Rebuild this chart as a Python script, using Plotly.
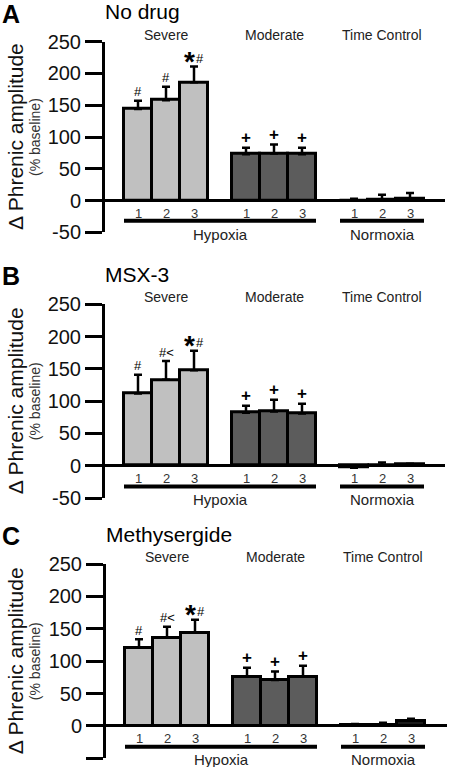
import plotly.graph_objects as go

# ---------------- data ----------------
panel_letters = ["A", "B", "C"]
panel_titles = ["No drug", "MSX-3", "Methysergide"]
group_names = ["Severe", "Moderate", "Time Control"]
trial_labels = ["1", "2", "3"]
condition_names = ["Hypoxia", "Normoxia"]

nodrug_severe = [144, 158, 186]
nodrug_severe_sem = [13, 21, 25]
nodrug_moderate = [73, 74, 73]
nodrug_moderate_sem = [10, 14, 10]
nodrug_time = [0, 1, 3]
nodrug_time_sem = [3, 8, 9]

msx3_severe = [112, 133, 148]
msx3_severe_sem = [29, 29, 30]
msx3_moderate = [82, 84, 81]
msx3_moderate_sem = [11, 18, 15]
msx3_time = [-3, 0, 2]
msx3_time_sem = [2, 5, 1]

methy_severe = [121, 136, 144]
methy_severe_sem = [13, 17, 20]
methy_moderate = [76, 71, 76]
methy_moderate_sem = [14, 13, 17]
methy_time = [2, 1, 8]
methy_time_sem = [1, 4, 3]

nodrug_marks_severe = ["#", "#", "*#"]
drug_marks_severe = ["#", "#<", "*#"]
marks_moderate = ["+", "+", "+"]

y_ticks = [-50, 0, 50, 100, 150, 200, 250]

# ---------------- layout helpers ----------------
W, H = 452, 767
FONT = "Arial, Liberation Sans, sans-serif"
GAP = 108 / 28  # group spacing in bar units
colors = ["#c0c0c0", "#5c5c5c", "#1a1a1a"]

panels = [
    dict(means=[nodrug_severe, nodrug_moderate, nodrug_time],
         sems=[nodrug_severe_sem, nodrug_moderate_sem, nodrug_time_sem],
         marks=[nodrug_marks_severe, marks_moderate, None],
         ytop=41.7, ybot=232.3, xl=105, xr=445),
    dict(means=[msx3_severe, msx3_moderate, msx3_time],
         sems=[msx3_severe_sem, msx3_moderate_sem, msx3_time_sem],
         marks=[drug_marks_severe, marks_moderate, None],
         ytop=304.3, ybot=498.0, xl=105, xr=445),
    dict(means=[methy_severe, methy_moderate, methy_time],
         sems=[methy_severe_sem, methy_moderate_sem, methy_time_sem],
         marks=[drug_marks_severe, marks_moderate, None],
         ytop=564.0, ybot=758.3, xl=106, xr=447),
]

fig = go.Figure()
annotations = []
shapes = []
X0PX = 138


def mark_ann(xa, ya, x, y, text, size, yshift, xshift=0, bold=False):
    return dict(x=x, y=y, xref=xa, yref=ya, text=f"<b>{text}</b>" if bold else text,
                showarrow=False, xanchor="center", yanchor="middle",
                yshift=yshift, xshift=xshift,
                font=dict(family=FONT, size=size, color="black"))


for p, pan in enumerate(panels):
    xa = "x" if p == 0 else f"x{p+1}"
    ya = "y" if p == 0 else f"y{p+1}"
    xkey = "xaxis" if p == 0 else f"xaxis{p+1}"
    ykey = "yaxis" if p == 0 else f"yaxis{p+1}"
    shift = pan["xl"] - 105
    xr_left = (pan["xl"] - (X0PX + shift)) / 28
    xr_right = (pan["xr"] - (X0PX + shift)) / 28

    for g in range(3):
        xs = [g * GAP + i for i in range(3)]
        fig.add_trace(go.Bar(
            x=xs, y=pan["means"][g], width=1,
            marker=dict(color=colors[g], line=dict(color="black", width=3)),
            error_y=dict(type="data", array=pan["sems"][g], symmetric=False,
                         arrayminus=[0, 0, 0], color="black", thickness=2.5, width=4),
            xaxis=xa, yaxis=ya, showlegend=False, hoverinfo="skip"))
        # group header
        annotations.append(dict(x=g * GAP + 1, y=250, xref=xa, yref=ya, text=group_names[g],
                                showarrow=False, yanchor="middle", yshift=7,
                                font=dict(family=FONT, size=14, color="#222")))
        # trial labels
        for i in range(3):
            annotations.append(dict(x=xs[i], y=0, xref=xa, yref=ya, text=trial_labels[i],
                                    showarrow=False, yanchor="middle", yshift=-13,
                                    font=dict(family=FONT, size=13, color="#333")))
        # significance marks
        if pan["marks"][g] is not None:
            for i in range(3):
                m = pan["marks"][g][i]
                top = pan["means"][g][i] + pan["sems"][g][i]
                if m.startswith("*"):
                    annotations.append(mark_ann(xa, ya, xs[i], top, "*", 28, 5, xshift=-5, bold=True))
                    annotations.append(mark_ann(xa, ya, xs[i], top, m[1:], 13, 8, xshift=6))
                elif m == "+":
                    annotations.append(mark_ann(xa, ya, xs[i], top, "+", 17, 10, bold=True))
                else:
                    annotations.append(mark_ann(xa, ya, xs[i], top, m, 13, 9))

    # condition underlines
    hyp_l, hyp_r = -0.5, GAP + 2.5
    nor_l, nor_r = 2 * GAP - 0.5, 2 * GAP + 2.5
    for (l, r, name) in [(hyp_l, hyp_r, condition_names[0]), (nor_l, nor_r, condition_names[1])]:
        shapes.append(dict(type="line", xref=xa, yref=ya, x0=l, x1=r, y0=-32, y1=-32,
                           line=dict(color="black", width=4)))
        annotations.append(dict(x=(l + r) / 2, y=0, xref=xa, yref=ya, text=name,
                                showarrow=False, yanchor="middle", yshift=-34,
                                font=dict(family=FONT, size=15, color="#222")))

    # panel letter and title
    annotations.append(dict(x=0.0, y=1, xref="paper", yref=f"{ya} domain", text=f"<b>{panel_letters[p]}</b>",
                            showarrow=False, xanchor="left", yanchor="middle", yshift=28,
                            font=dict(family=FONT, size=25, color="black")))
    annotations.append(dict(x=0, y=1, xref=f"{xa} domain", yref=f"{ya} domain", text=panel_titles[p],
                            showarrow=False, xanchor="left", yanchor="middle", yshift=30, xshift=-2,
                            font=dict(family=FONT, size=21, color="black")))
    # y titles
    annotations.append(dict(x=15 / W, y=0.5, xref="paper", yref=f"{ya} domain", text="Δ Phrenic amplitude",
                            showarrow=False, textangle=-90, xanchor="center", yanchor="middle",
                            font=dict(family=FONT, size=21, color="#111")))
    annotations.append(dict(x=35 / W, y=0.5, xref="paper", yref=f"{ya} domain", text="(% baseline)",
                            showarrow=False, textangle=-90, xanchor="center", yanchor="middle",
                            font=dict(family=FONT, size=14, color="#333")))

    layout_x = dict(domain=[pan["xl"] / W, pan["xr"] / W], range=[xr_left, xr_right],
                    showgrid=False, zeroline=False, showline=False, showticklabels=False,
                    ticks="", anchor=ya, fixedrange=True, automargin=False)
    layout_y = dict(domain=[1 - pan["ybot"] / H, 1 - pan["ytop"] / H], range=[-50, 250],
                    tickvals=y_ticks, ticktext=[str(v) for v in y_ticks],
                    showgrid=False, zeroline=True, zerolinecolor="black", zerolinewidth=3,
                    showline=True, linecolor="black", linewidth=3,
                    ticks="outside", ticklen=17, tickwidth=3, tickcolor="black",
                    tickfont=dict(family=FONT, size=20, color="#111"),
                    anchor=xa, fixedrange=True, automargin=False)
    fig.update_layout({xkey: layout_x, ykey: layout_y})

fig.update_layout(
    width=W, height=H, margin=dict(l=0, r=0, t=0, b=0, autoexpand=False),
    paper_bgcolor="white", plot_bgcolor="white",
    bargap=0, annotations=annotations, shapes=shapes,
    font=dict(family=FONT),
)

fig.write_html("out.html", config={"displayModeBar": False},
               post_script="document.body.style.margin='0px'; document.body.style.overflow='hidden';")
